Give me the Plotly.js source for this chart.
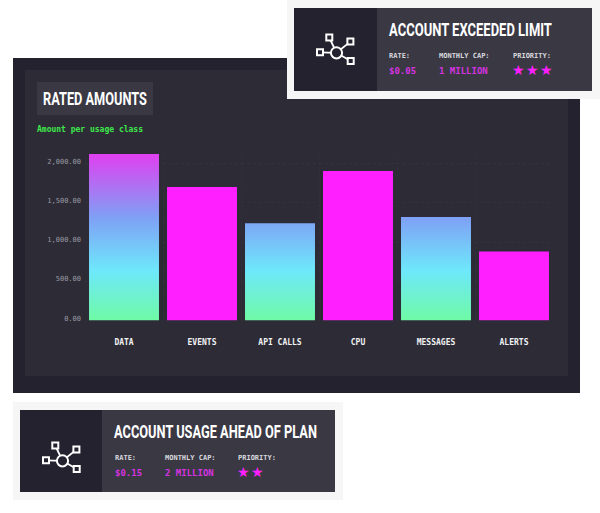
<!DOCTYPE html>
<html><head><meta charset="utf-8">
<script src="https://cdn.plot.ly/plotly-3.0.1.min.js"></script>
<style>html,body{margin:0;padding:0;background:#fff}#c{width:600px;height:513px}</style>
</head><body><div id="c"></div><script>
const categories = ["DATA","EVENTS","API CALLS","CPU","MESSAGES","ALERTS"];
const amounts = [2120,1700,1240,1905,1318,880];
const gradientBars = [true,false,true,false,true,false];
const tickValues = [0,500,1000,1500,2000];
const W=600,H=513;
const MONO='"DejaVu Sans Mono","Liberation Mono",monospace';
const COND='Roboto,sans-serif';
const px=x=>x/W, py=y=>1-y/H;
const shapes=[];
function box(x0,y0,x1,y1,fill,line,lw){shapes.push({type:'rect',xref:'paper',yref:'paper',layer:'below',x0:px(x0),x1:px(x1),y0:py(y1),y1:py(y0),fillcolor:fill||'rgba(0,0,0,0)',line:{color:line||'rgba(0,0,0,0)',width:lw||0}});}
function seg(x0,y0,x1,y1,c,lw){shapes.push({type:'line',xref:'paper',yref:'paper',layer:'below',x0:px(x0),x1:px(x1),y0:py(y0),y1:py(y1),line:{color:c,width:lw}});}
function circ(cx,cy,r,c,lw,fill){shapes.push({type:'circle',xref:'paper',yref:'paper',layer:'below',x0:px(cx-r),x1:px(cx+r),y0:py(cy+r),y1:py(cy-r),fillcolor:fill,line:{color:c,width:lw}});}
const anns=[];
const fitted={};
function txt(x,y,t,size,color,family,anchor,weight){anns.push({xref:'paper',yref:'paper',x:px(x),y:py(y),text:t,showarrow:false,xanchor:anchor||'left',yanchor:'middle',font:{size,color,family,weight:weight||'normal'},borderpad:0,borderwidth:0});}
function title(x,y,t,size,width){txt(x,y,t,size,'#ffffff',COND,'left','bold');fitted[t]=width;}
function icon(dx,dy){
 const cx=336.5+dx,cy=52.8+dy,c='#ffffff',lw=2,bg='#23222e';
 const pts=[[329.3,37.5],[350.4,41.6],[320,52.3],[350.7,61]];
 pts.forEach(p=>seg(cx,cy,p[0]+dx,p[1]+dy,c,1.8));
 pts.forEach(p=>box(p[0]+dx-3,p[1]+dy-3,p[0]+dx+3,p[1]+dy+3,bg,c,lw));
 circ(cx,cy,5.6,c,lw,bg);
}
function card(x0,y0,x1,y1,split,t,w,rate,cap,stars,cols){
 box(x0-7,y0-8,x1+8,y1+8,'#f6f6f7');
 box(x0,y0,x1,y1,'#3a3843');
 box(x0,y0,split,y1,'#23222e');
 title(split+12,y0+21.5,t,19,w);
 const ly=y0+48,vy=y0+62.5;
 txt(cols[0],ly,'RATE:',7,'#d8d8de',MONO,'left','bold');
 txt(cols[1],ly,'MONTHLY CAP:',7,'#d8d8de',MONO,'left','bold');
 txt(cols[2],ly,'PRIORITY:',7,'#d8d8de',MONO,'left','bold');
 txt(cols[0],vy,rate,9,'#d633e0',MONO,'left','bold');
 txt(cols[1],vy,cap,9,'#d633e0',MONO,'left','bold');
 for(let i=0;i<stars;i++) txt(cols[2]+5+i*14,vy-0.5,'★',14,'#ff1fff','DejaVu Sans','center');
}
box(13,58,580,393,'#23222e');
box(25,70,568,376,'#2d2c36');
box(37,82,153,115,'#393843');
title(43,98,'RATED AMOUNTS',19,104);
txt(37,129,'Amount per usage class',8,'#3ee84c',MONO,'left','bold');
card(294,8,592,91,377,'ACCOUNT EXCEEDED LIMIT',163,'$0.05','1 MILLION',3,[389,439,513]);
icon(0,0);
card(20,410,335,492,102,'ACCOUNT USAGE AHEAD OF PLAN',203,'$0.15','2 MILLION',2,[115,165,238]);
icon(-274,408);
const data=[{type:'bar',x:categories,y:amounts,marker:{color:gradientBars.map(g=>g?'#6ee8fb':'#ff1fff'),line:{width:0}},hoverinfo:'x+y'}];
const layout={width:W,height:H,margin:{l:0,r:0,t:0,b:0,pad:0},paper_bgcolor:'#ffffff',plot_bgcolor:'rgba(0,0,0,0)',showlegend:false,bargap:0.103,
 xaxis:{domain:[85/W,553/W],range:[-0.5,5.5],type:'category',tickson:'boundaries',showgrid:true,gridcolor:'rgba(255,255,255,0.025)',griddash:'dot',zeroline:false,showline:false,ticks:'',ticklabelstandoff:15,tickfont:{family:MONO,size:8,color:'#f2f2f4',weight:'bold'},tickangle:0,automargin:false},
 yaxis:{domain:[1-320.5/H,1-150/H],range:[0,170.5/0.0785],tickvals:tickValues,tickformat:',.2f',showgrid:true,gridcolor:'rgba(255,255,255,0.03)',griddash:'dot',gridwidth:1,zeroline:false,showline:false,ticks:'',ticklabelstandoff:3,tickfont:{family:MONO,size:7,color:'#9a9aa2'},automargin:false},
 shapes,annotations:anns};
Plotly.newPlot('c',data,layout,{displayModeBar:false,responsive:false}).then(gd=>{
 const ya=gd._fullLayout.yaxis;
 const svg=gd.querySelector('.main-svg');
 const defs=svg.querySelector('defs');
 const ns='http://www.w3.org/2000/svg';
 const g=document.createElementNS(ns,'linearGradient');
 g.setAttribute('id','barGrad');g.setAttribute('gradientUnits','userSpaceOnUse');
 g.setAttribute('x1','0');g.setAttribute('x2','0');
 g.setAttribute('y1',ya.l2p(0));g.setAttribute('y2',ya.l2p(2120));
 [[0,'#6ffaa5'],[0.3,'#6ee8fb'],[0.62,'#7fa0f5'],[1,'#e040f0']].forEach(s=>{
  const st=document.createElementNS(ns,'stop');st.setAttribute('offset',s[0]);st.setAttribute('stop-color',s[1]);g.appendChild(st);});
 defs.appendChild(g);
 gd.querySelectorAll('.bars .point path').forEach((p,i)=>{if(gradientBars[i])p.style.fill='url(#barGrad)';});
 gd.querySelectorAll('.ytick text').forEach(t=>{t.setAttribute('y',parseFloat(t.getAttribute('y'))-2.3);});
 gd.querySelectorAll('text.annotation-text').forEach(t=>{
  const w=fitted[t.textContent];
  if(!w)return;
  const orig=t.getComputedTextLength();
  const left=parseFloat(t.getAttribute('x')||0)-orig/2;
  t.setAttribute('transform','translate('+left+',0) scale('+(w/orig)+',1) translate('+(-left)+',0)');
 });
});
</script></body></html>
